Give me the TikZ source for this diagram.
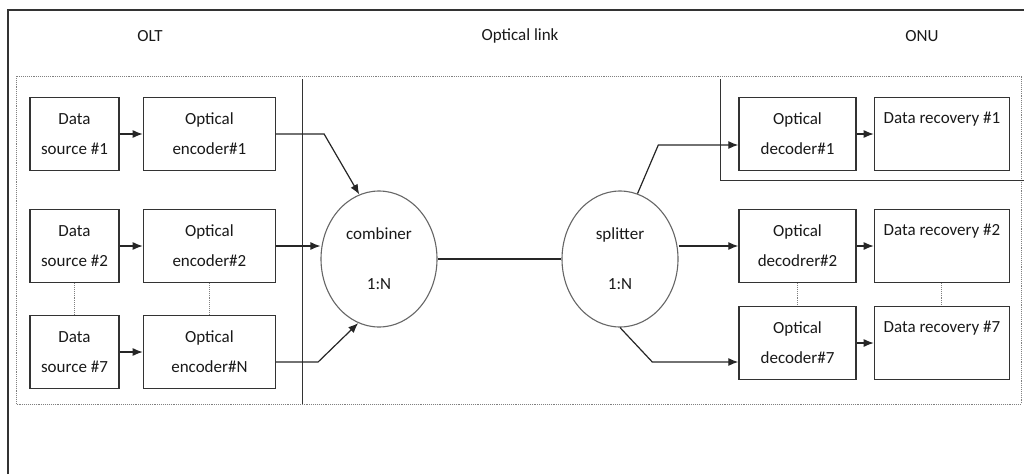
\documentclass[tikz,border=0pt]{standalone}
\usepackage{fontspec}
\setmainfont{Carlito}
\usetikzlibrary{arrows.meta,positioning,shapes.geometric}

\begin{document}
\begin{tikzpicture}[
  x=1pt, y=-1pt,
  font=\fontsize{17}{30}\selectfont,
  text=black!90,
  box/.style={draw=black!80, line width=1.4pt, align=center, minimum height=73pt, inner sep=0pt},
  srcbox/.style={box, minimum width=89pt},
  encbox/.style={box, minimum width=132pt},
  decbox/.style={box, minimum width=117pt},
  recbox/.style={box, minimum width=135pt},
  coupler/.style={ellipse, draw=black!60, line width=1.1pt, minimum width=116pt, minimum height=136pt, inner sep=0pt, align=center},
  link/.style={draw=black!85, line width=1.2pt},
  zone/.style={draw=black!80, line width=0.9pt},
  dots/.style={draw=black!50, densely dotted, line width=0.9pt},
  >={Latex[length=10pt, width=8pt]}
]
\useasboundingbox (0,0) rectangle (1024,474);

% frame and zones
\draw[black!80, line width=1.2pt] (8,474) -- (8,10) -- (1024,10);
\draw[dots] (16,76) rectangle (1021,404);
\draw[zone] (302,79) -- (302,404);
\draw[zone] (720,79) -- (720,180) -- (1024,180);

\node (olt) at (150,36) {OLT};
\node (optlink) at (520,36) {Optical link};
\node (onu) at (922,36) {ONU};

% transmitter side
\node[srcbox] (src1) at (74.5,134) {Data\\source \#1};
\node[encbox, right=23pt of src1] (enc1) {Optical\\encoder\#1};
\node[srcbox] (src2) at (74.5,246) {Data\\source \#2};
\node[encbox, right=23pt of src2] (enc2) {Optical\\encoder\#2};
\node[srcbox] (src7) at (74.5,352) {Data\\source \#7};
\node[encbox, right=23pt of src7] (encN) {Optical\\encoder\#N};

\node[coupler] (comb) at (379,259) {combiner\\[20pt]1:N};
\node[coupler] (split) at (620,259) {splitter\\[20pt]1:N};

% receiver side
\node[decbox] (dec1) at (797.5,134) {Optical\\decoder\#1};
\node[recbox, right=17pt of dec1] (rec1) {Data recovery \#1\\\phantom{y}};
\node[decbox] (dec2) at (797.5,246) {Optical\\decodrer\#2};
\node[recbox, right=17pt of dec2] (rec2) {Data recovery \#2\\\phantom{y}};
\node[decbox] (dec7) at (797.5,343) {Optical\\decoder\#7};
\node[recbox, right=17pt of dec7] (rec7) {Data recovery \#7\\\phantom{y}};

\draw[link,->] (src1) -- (enc1);
\draw[link,->] (src2) -- (enc2);
\draw[link,->] (src7) -- (encN);
\draw[dots] (src2) -- (src7);
\draw[dots] (enc2) -- (encN);

\draw[link,->] (enc1.east) -- ++(48,0) -- (comb.107);
\draw[link,->] (enc2.east) -- (comb.west |- enc2.east);
\draw[link,->] ([yshift=-10pt]encN.east) -- ++(42,0) -- (comb.252);
\draw[link] (comb) -- (split);

\draw[link,->] (split.75) -- ([xshift=-80pt,yshift=-11pt]dec1.west) -- ([yshift=-11pt]dec1.west);
\draw[link,->] (split.east |- dec2.west) -- (dec2.west);
\draw[link,->] (split.270) -- ([xshift=-86pt,yshift=-19pt]dec7.west) -- ([yshift=-19pt]dec7.west);

\draw[link,->] (dec1) -- (rec1);
\draw[link,->] (dec2) -- (rec2);
\draw[link,->] (dec7) -- (rec7);
\draw[dots] (dec2) -- (dec7);
\draw[dots] (rec2) -- (rec7);
\end{tikzpicture}
\end{document}
